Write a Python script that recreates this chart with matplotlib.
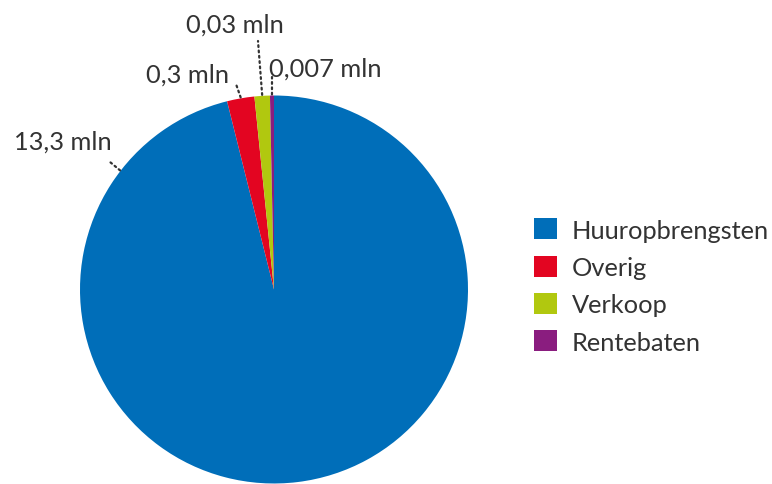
import numpy as np
import matplotlib.pyplot as plt

# categories / values (slice sizes, labels as printed)
categories = ["Huuropbrengsten", "Overig", "Verkoop", "Rentebaten"]
slice_sizes = [13.3, 0.315, 0.177, 0.046]
value_labels = ["13,3 mln", "0,3 mln", "0,03 mln", "0,007 mln"]
colors = ["#006EB9", "#E30521", "#B1C80F", "#8A1D7F"]

W, H = 772, 485
fig = plt.figure(figsize=(W / 100, H / 100), dpi=100)
ax = fig.add_axes([0, 0, 1, 1])

cx, cy, r = 274, H - 290.5, 194  # pie centre / radius in pixels
wedges, _ = ax.pie(slice_sizes, colors=colors, startangle=90, counterclock=False,
                   center=(cx, cy), radius=r, frame=True,
                   wedgeprops=dict(linewidth=0))
ax.set_xlim(0, W)
ax.set_ylim(0, H)
ax.set_aspect("equal")
ax.axis("off")

txt_color = "#333333"
fsize = 18.3
font = dict(family=["Lato", "DejaVu Sans"], fontweight="normal", color=txt_color, fontsize=fsize)

# label layout: text left/baseline, leader end point (pixels, top-left origin)
text_pos = [(14, 150), (146, 83), (186, 33), (269, 77)]
leader_end = [(110, 163), (236, 85), (258, 42), (272, 78)]
leader_angle = [142.5, None, None, None]  # None -> wedge middle

for i, w in enumerate(wedges):
    a = leader_angle[i]
    if a is None:
        a = (w.theta1 + w.theta2) / 2
    x0 = cx + r * np.cos(np.radians(a))
    y0 = cy + r * np.sin(np.radians(a))
    ex, ey = leader_end[i]
    ax.plot([x0, ex], [y0 + 1, H - ey], color=txt_color, lw=1.6,
            linestyle=(0, (0.8, 1.6)), dash_capstyle="round")
    tx, ty = text_pos[i]
    ax.text(tx, H - ty, value_labels[i], ha="left", va="baseline", **font)

leg = ax.legend(wedges, categories, loc="center left",
                bbox_to_anchor=(534, H - 287), bbox_transform=ax.transData,
                frameon=False, borderpad=0, borderaxespad=0,
                handlelength=0.9, handleheight=0.9, handletextpad=0.58,
                labelspacing=0.55,
                prop=dict(family=["Lato", "DejaVu Sans"], weight="normal", size=fsize))
for t in leg.get_texts():
    t.set_color(txt_color)

fig.savefig("out.png", dpi=100)
